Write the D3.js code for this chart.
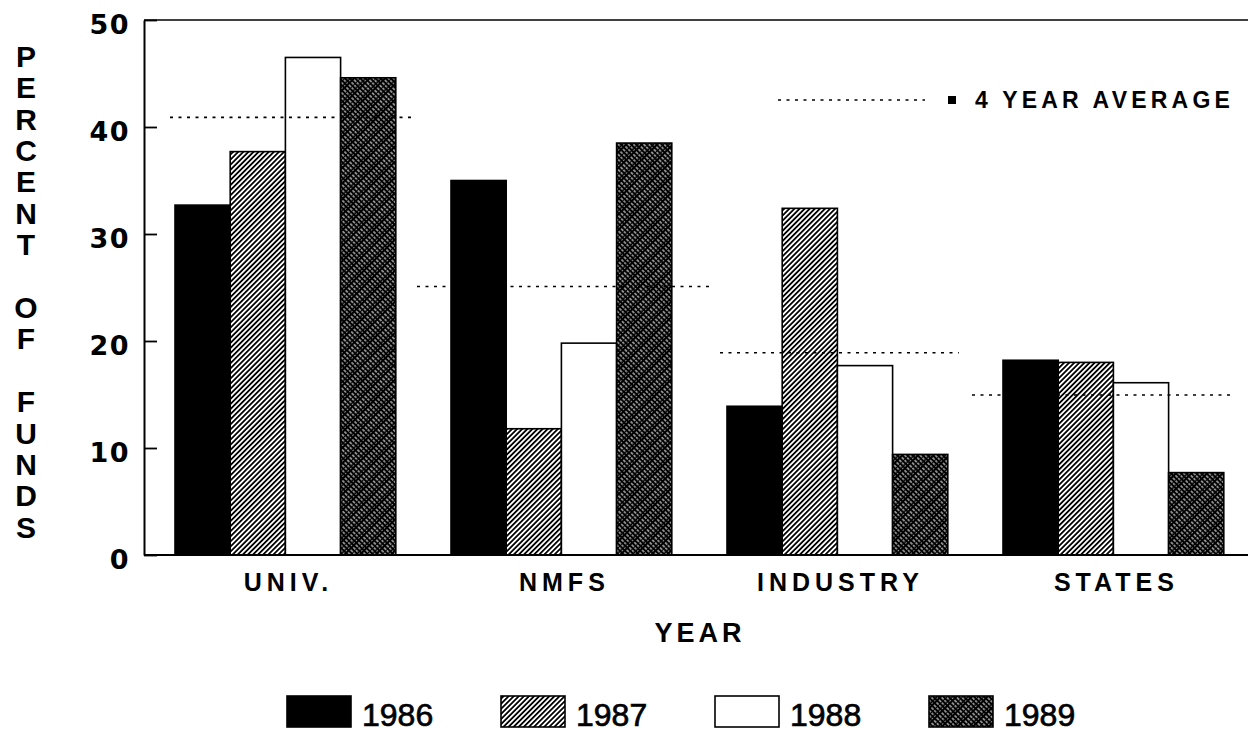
<!DOCTYPE html>
<html><head><meta charset="utf-8">
<script src="https://cdn.jsdelivr.net/npm/d3@7"></script>
<style>body{margin:0;background:#fff}svg{display:block}</style>
</head><body><svg id="c" width="1248" height="735"></svg>
<script>
// ---- data ----
const categories = ["UNIV.", "NMFS", "INDUSTRY", "STATES"];
const years = ["1986", "1987", "1988", "1989"];
const v1986 = [32.7, 35.0, 13.9, 18.2];
const v1987 = [37.7, 11.8, 32.4, 18.0];
const v1988 = [46.5, 19.8, 17.7, 16.1];
const v1989 = [44.6, 38.5, 9.4, 7.7];
const fourYearAverage = [40.9, 25.1, 18.9, 14.95];
const yTicks = [0, 10, 20, 30, 40, 50];
const yAxisTitle = "PERCENT OF FUNDS";
const xAxisTitle = "YEAR";
const averageLabel = "4 YEAR AVERAGE";

// ---- layout (not data) ----
const avgExtent = [[-5, 19], [-34, 41], [-7, 11], [-31, 10]];
const seriesValues = [v1986, v1987, v1988, v1989];

const svg = d3.select("#c");
const W = 1248, H = 735;
svg.append("rect").attr("width", W).attr("height", H).attr("fill", "#fff");

const defs = svg.append("defs");
// 1987 hatch "/"
const p87 = defs.append("pattern").attr("id", "h87").attr("patternUnits", "userSpaceOnUse")
  .attr("width", 3.6).attr("height", 3.6).attr("patternTransform", "rotate(45)");
p87.append("rect").attr("width", 3.6).attr("height", 3.6).attr("fill", "#fff");
p87.append("line").attr("x1", 0.9).attr("y1", 0).attr("x2", 0.9).attr("y2", 3.6)
  .attr("stroke", "#000").attr("stroke-width", 1.8);
// 1989 dark speckled hatch "\"
const p89 = defs.append("pattern").attr("id", "h89").attr("patternUnits", "userSpaceOnUse")
  .attr("width", 3.6).attr("height", 11).attr("patternTransform", "rotate(-45)");
p89.append("rect").attr("width", 3.6).attr("height", 11).attr("fill", "#000");
p89.append("line").attr("x1", 1.8).attr("y1", 0).attr("x2", 1.8).attr("y2", 11)
  .attr("stroke", "#fff").attr("stroke-width", 1.0).attr("stroke-dasharray", "2.5,1.5,1,2,3,1");

const fills = {"1986": "#000", "1987": "url(#h87)", "1988": "#fff", "1989": "url(#h89)"};

const y = d3.scaleLinear().domain([0, 50]).range([555, 20]);
const x0 = d3.scaleBand().domain(categories).range([147.4, 1251.4]).paddingInner(0.2).paddingOuter(0.1);
const x1 = d3.scaleBand().domain(years).range([0, x0.bandwidth()]);

const FONT = "'Liberation Sans', Arial, Helvetica, sans-serif";

// bars
const rows = categories.map((c, i) => ({cat: c, i, vals: years.map((yr, j) => ({yr, v: seriesValues[j][i]}))}));
const g = svg.append("g");
const grp = g.selectAll("g.cat").data(rows).join("g").attr("class", "cat")
  .attr("transform", d => `translate(${x0(d.cat)},0)`);
grp.selectAll("rect").data(d => d.vals).join("rect")
  .attr("x", d => x1(d.yr)).attr("width", x1.bandwidth())
  .attr("y", d => y(d.v)).attr("height", d => y(0) - y(d.v))
  .attr("fill", d => fills[d.yr]).attr("stroke", "#000").attr("stroke-width", 1.6);

// average lines
svg.selectAll("line.avg").data(categories).join("line").attr("class", "avg")
  .attr("x1", (c, i) => x0(c) + avgExtent[i][0])
  .attr("x2", (c, i) => x0(c) + x0.bandwidth() + avgExtent[i][1])
  .attr("y1", (c, i) => y(fourYearAverage[i])).attr("y2", (c, i) => y(fourYearAverage[i]))
  .attr("stroke", "#000").attr("stroke-width", 1.6).attr("stroke-dasharray", "3,5.5");

// axes frame
const L = 144;
svg.append("line").attr("x1", L).attr("x2", W).attr("y1", y(50)).attr("y2", y(50)).attr("stroke", "#000").attr("stroke-width", 1.6);
svg.append("line").attr("x1", L).attr("x2", W).attr("y1", y(0)).attr("y2", y(0)).attr("stroke", "#000").attr("stroke-width", 1.8);

const yAxis = d3.axisLeft(y).tickValues(yTicks).tickSize(-13).tickSizeOuter(0).tickPadding(14).tickFormat(d3.format("d"));
const ya = svg.append("g").attr("transform", `translate(${L},0)`).call(yAxis);
ya.select(".domain").attr("stroke-width", 2);
ya.selectAll(".tick line").attr("stroke-width", 1.8);
ya.selectAll(".tick text").attr("font-family", "'DejaVu Sans', sans-serif").attr("font-weight", "bold")
  .attr("font-size", 27).attr("fill", "#000").attr("dy", null).attr("y", 13).attr("letter-spacing", 1.5);

// category labels
svg.selectAll("text.cat").data(categories).join("text").attr("class", "cat")
  .attr("x", c => x0(c) + x0.bandwidth() / 2 + 3).attr("y", 591)
  .attr("text-anchor", "middle").attr("font-family", FONT).attr("font-weight", "bold")
  .attr("font-size", 25).attr("letter-spacing", 5).text(c => c);

// x title
svg.append("text").attr("x", (L + W) / 2 + 4).attr("y", 642).attr("text-anchor", "middle")
  .attr("font-family", FONT).attr("font-weight", "bold").attr("font-size", 27)
  .attr("letter-spacing", 4).text(xAxisTitle);

// y title (stacked letters)
const letters = yAxisTitle.split("");
svg.selectAll("text.yl").data(letters).join("text").attr("class", "yl")
  .attr("x", 26).attr("y", (ch, i) => 56 + i * 31.4 + 10.7)
  .attr("text-anchor", "middle").attr("font-family", FONT).attr("font-weight", "bold")
  .attr("font-size", 30).text(ch => ch);

// average legend
svg.append("line").attr("x1", 778).attr("x2", 925).attr("y1", 100).attr("y2", 100)
  .attr("stroke", "#000").attr("stroke-width", 1.4).attr("stroke-dasharray", "3,5.5");
svg.append("rect").attr("x", 948).attr("y", 96).attr("width", 8).attr("height", 8).attr("fill", "#000");
svg.append("text").attr("x", 975).attr("y", 108).attr("font-family", FONT).attr("font-weight", "bold")
  .attr("font-size", 23).attr("letter-spacing", 4.2).text(averageLabel);

// year legend
const lg = svg.selectAll("g.lg").data(years).join("g").attr("class", "lg")
  .attr("transform", (d, i) => `translate(${287 + i * 214},0)`);
lg.append("rect").attr("x", 0).attr("y", 696).attr("width", 64).attr("height", 31)
  .attr("fill", d => fills[d]).attr("stroke", "#000").attr("stroke-width", 1.6);
lg.append("text").attr("x", 75).attr("y", 726).attr("font-family", FONT)
  .attr("font-size", 32).attr("stroke", "#000").attr("stroke-width", 0.7).text(d => d);
</script></body></html>
